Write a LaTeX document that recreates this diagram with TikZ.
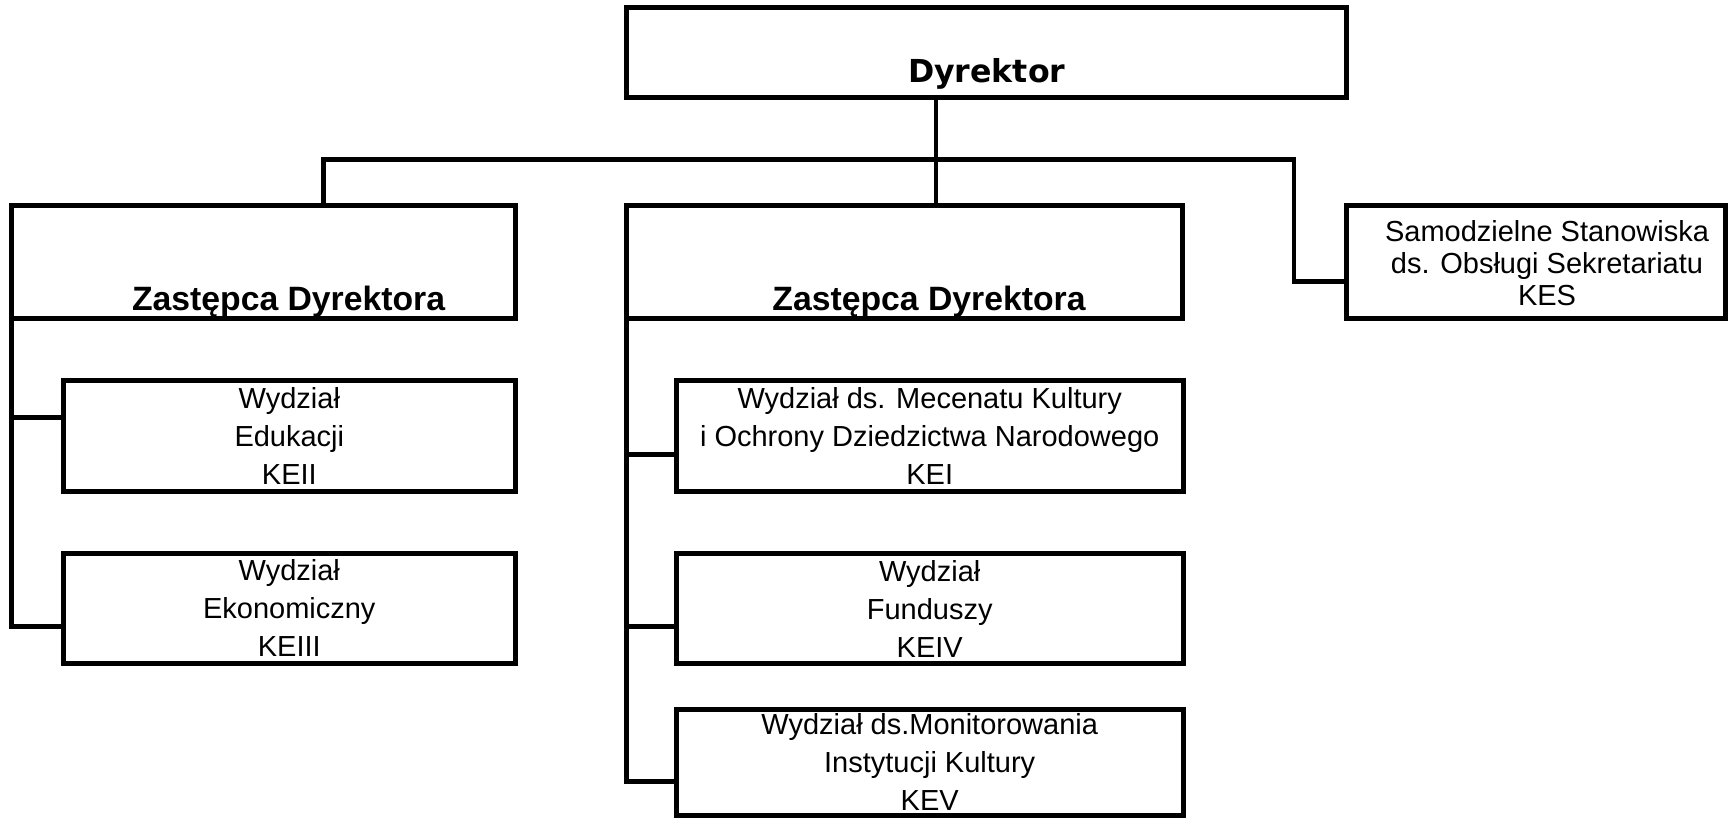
\documentclass[tikz,border=0pt]{standalone}
\usepackage{fontspec}
\usepackage{tikz}
\setmainfont{Liberation Sans}
\newfontfamily\heavyfont{DejaVu Sans}

\begin{document}
\begin{tikzpicture}[
    unitbox/.style={draw, line width=1.4pt, inner sep=0pt, outer sep=0pt, align=center, minimum height=1.1cm,
        font=\fontsize{8.25}{10.8}\selectfont},
    deptbox/.style={unitbox, minimum width=5.04cm, minimum height=1.13cm},
    headtext/.style={anchor=base, font=\bfseries\fontsize{9.6}{11}\selectfont},
    link/.style={line width=1.4pt}
]
\useasboundingbox (0,0) rectangle (17.30,-8.17);

\node[unitbox, minimum width=7.20cm, minimum height=0.904cm] (dyr) at (9.867,-0.525) {};
\node[anchor=base, font=\heavyfont\bfseries\fontsize{9}{11}\selectfont] (dyrtxt) at (9.867,-0.82)
    {Dyrektor};

\node[deptbox] (zast1) at (2.633,-2.618) {};
\node[deptbox, minimum width=5.56cm] (zast2) at (9.047,-2.617) {};
\node[headtext] (zast1txt) at (2.886,-3.10) {Zastępca Dyrektora};
\node[headtext] (zast2txt) at (9.29,-3.10) {Zastępca Dyrektora};

\node[unitbox, minimum width=3.783cm, minimum height=1.123cm] (kes) at (15.359,-2.619) {};
\node[align=center, font=\fontsize{8.25}{9.1}\selectfont] (kestxt) at (15.47,-2.63)
    {Samodzielne Stanowiska\\ds. Obsługi Sekretariatu\\KES};

\node[unitbox, minimum width=4.52cm, minimum height=1.106cm] (edu) at (2.893,-4.36)
    {Wydział\\Edukacji\\KEII};
\node[unitbox, minimum width=4.52cm] (eko) at (2.893,-6.083)
    {Wydział\\Ekonomiczny\\KEIII};

\node[unitbox, minimum width=5.067cm, minimum height=1.11cm] (kei) at (9.297,-4.362)
    {Wydział ds. Mecenatu Kultury\\i Ochrony Dziedzictwa Narodowego\\KEI};
\node[unitbox, minimum width=5.067cm] (keiv) at (9.297,-6.087)
    {Wydział\\Funduszy\\KEIV};
\node[unitbox, minimum width=5.067cm, minimum height=1.057cm] (kev) at (9.297,-7.622)
    {Wydział ds.Monitorowania\\Instytucji Kultury\\KEV};

% szyna pod dyrektorem
\coordinate (busL) at (3.233,-1.593);
\coordinate (busM) at (9.36,-1.593);
\coordinate (busR) at (12.94,-1.593);

\draw[link] (busM |- dyr.south) -- (busM |- zast2.north);
\draw[link] (busL |- zast1.north) -- (busL) -- (busR) |- ([yshift=-1.94mm]kes.west);

% piony zastepcow
\draw[link] (zast1.south west) |- ([yshift=-1.78mm]eko.west);
\draw[link] ([yshift=1.87mm]edu.west) -- ++(-0.52,0);
\draw[link] (zast2.south west) |- ([yshift=-1.93mm]kev.west);
\draw[link] ([yshift=-1.81mm]kei.west) -- ++(-0.496,0);
\draw[link] ([yshift=-1.76mm]keiv.west) -- ++(-0.496,0);

\end{tikzpicture}
\end{document}
